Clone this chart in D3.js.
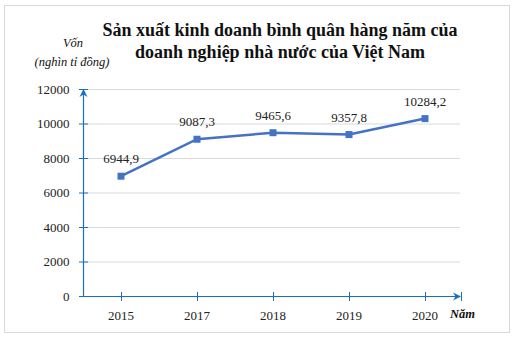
<!DOCTYPE html>
<html><head><meta charset="utf-8">
<script src="https://cdn.jsdelivr.net/npm/d3@7"></script>
<style>body{margin:0;background:#fff}svg{display:block}
svg text{font-family:"Liberation Serif","Times New Roman","DejaVu Serif",serif !important}</style>
</head><body>
<script>
const categories = ["2015","2017","2018","2019","2020"];
const values = [6944.9, 9087.3, 9465.6, 9357.8, 10284.2];
const yTicks = [0,2000,4000,6000,8000,10000,12000];
const titleLines = ["Sản xuất kinh doanh bình quân hàng năm của","doanh nghiệp nhà nước của Việt Nam"];

const W=524,H=338;
const svg=d3.select("body").append("svg").attr("width",W).attr("height",H);
svg.append("rect").attr("x",4.5).attr("y",5.5).attr("width",505).attr("height",327).attr("fill","#fff").attr("stroke","#d9d9d9");

const x0=83, x1=463, yTop=89, yBot=296;
const x=d3.scaleBand().domain(categories).range([x0,x1]);
const y=d3.scaleLinear().domain([0,12000]).range([yBot,yTop]);
const axisCol="#1a6fbd";

// gridlines
svg.append("g").selectAll("line").data(yTicks.filter(d=>d>0)).join("line")
  .attr("x1",x0).attr("x2",460).attr("y1",d=>y(d)+0.5).attr("y2",d=>y(d)+0.5)
  .attr("stroke","#d9d9d9").attr("stroke-width",1);

// y axis
const ya=svg.append("g").attr("transform",`translate(${x0+0.5},0)`)
  .call(d3.axisLeft(y).tickValues(yTicks).tickSize(0).tickPadding(14).tickFormat(d=>d));
ya.select(".domain").remove();
ya.selectAll("text").attr("font-size",13).attr("fill","#222");
svg.append("g").selectAll("line").data(yTicks).join("line")
  .attr("x1",x0-4).attr("x2",x0+5).attr("y1",d=>y(d)+0.5).attr("y2",d=>y(d)+0.5)
  .attr("stroke",axisCol).attr("stroke-width",1);
svg.append("line").attr("x1",x0+0.5).attr("x2",x0+0.5).attr("y1",yBot).attr("y2",yTop+1)
  .attr("stroke",axisCol).attr("stroke-width",1.2);
svg.append("path").attr("d",`M${x0+0.5},${yTop} l-4,8 l4,-2.5 l4,2.5 z`).attr("fill",axisCol);

// x axis
const xa=svg.append("g").attr("transform",`translate(0,${yBot+0.5})`)
  .call(d3.axisBottom(x).tickSize(0).tickPadding(14));
xa.select(".domain").remove();
xa.selectAll("text").attr("font-size",13).attr("fill","#222");
svg.append("g").selectAll("line").data(categories).join("line")
  .attr("x1",d=>x(d)+x.bandwidth()/2+0.5).attr("x2",d=>x(d)+x.bandwidth()/2+0.5)
  .attr("y1",yBot-4).attr("y2",yBot+5).attr("stroke",axisCol);
svg.append("line").attr("x1",x0).attr("x2",459).attr("y1",yBot+0.5).attr("y2",yBot+0.5)
  .attr("stroke",axisCol).attr("stroke-width",1.2);
svg.append("path").attr("d",`M461,${yBot+0.5} l-8,-4 l2.5,4 l-2.5,4 z`).attr("fill",axisCol);
svg.append("line").attr("x1",461.5).attr("x2",461.5).attr("y1",yBot-4).attr("y2",yBot+5).attr("stroke",axisCol);

// line
const cx=d=>x(d)+x.bandwidth()/2;
const pts=categories.map((c,i)=>[cx(c),y(values[i])]);
svg.append("path").attr("d",d3.line()(pts)).attr("fill","none").attr("stroke","#4472c4").attr("stroke-width",2.5);
svg.append("g").selectAll("rect").data(pts).join("rect")
  .attr("x",d=>d[0]-3.5).attr("y",d=>d[1]-3.5).attr("width",7).attr("height",7).attr("fill","#4472c4");
svg.append("g").selectAll("text").data(values).join("text")
  .attr("x",(d,i)=>pts[i][0]).attr("y",(d,i)=>pts[i][1]-13)
  .attr("text-anchor","middle").attr("font-size",13).attr("fill","#222")
  .text(d=>d.toFixed(1).replace(".",","));

// title
svg.append("g").selectAll("text").data(titleLines).join("text")
  .attr("x",280).attr("y",(d,i)=>36+i*22).attr("text-anchor","middle")
  .attr("font-weight","bold").attr("font-size",18).attr("fill","#111").text(d=>d);

// axis titles
svg.append("text").attr("x",73).attr("y",47).attr("text-anchor","middle")
  .attr("font-style","italic").attr("font-size",12.5).attr("fill","#111").text("Vốn");
svg.append("text").attr("x",72).attr("y",66).attr("text-anchor","middle")
  .attr("font-style","italic").attr("font-size",12.5).attr("fill","#111").text("(nghìn tỉ đồng)");
svg.append("text").attr("x",450).attr("y",318)
  .attr("font-style","italic").attr("font-weight","bold").attr("font-size",12.5).attr("fill","#111").text("Năm");
</script>
</body></html>
